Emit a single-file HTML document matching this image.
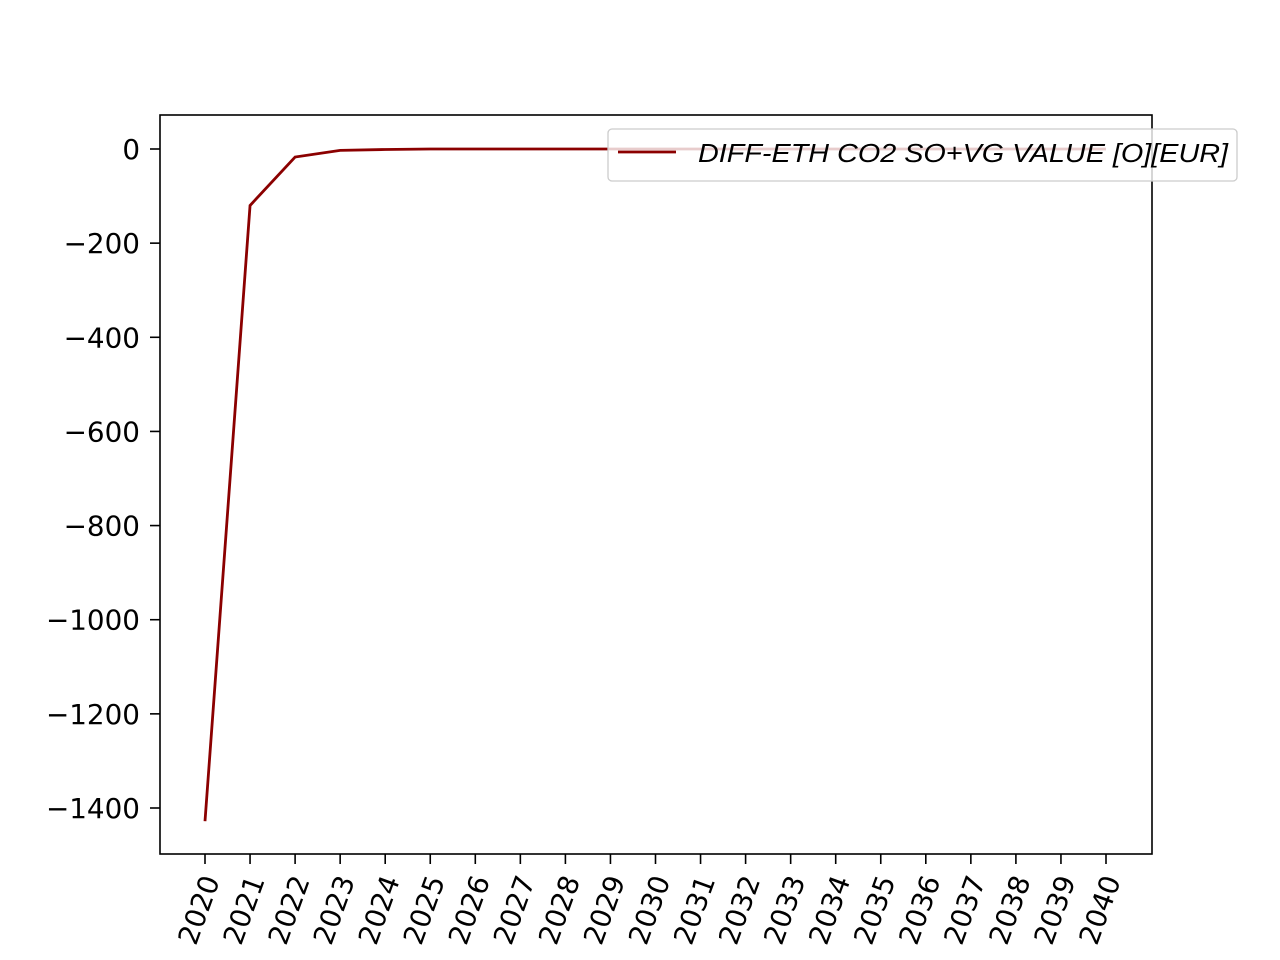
<!DOCTYPE html>
<html><head><meta charset="utf-8"><style>body{margin:0;background:#fff}svg{display:block}</style></head>
<body>
<svg id="chart" width="1280" height="960" xmlns="http://www.w3.org/2000/svg"
 font-family="'DejaVu Sans','Liberation Sans',sans-serif">
<rect x="0" y="0" width="1280" height="960" fill="#fff"/>
<g id="yticks"></g>
<g id="xticks"></g>
<polyline id="line" fill="none" stroke="#8b0000" stroke-width="2.8"/>
<rect x="160" y="115" width="992" height="739" fill="none" stroke="#000" stroke-width="1.6"/>
<g>
<rect x="608" y="129" width="629" height="52" rx="4" fill="#fff" fill-opacity="0.8" stroke="#ccc" stroke-width="1.3"/>
<line x1="618" y1="152" x2="676" y2="152" stroke="#8b0000" stroke-width="2.8"/>
<text x="698" y="162" font-size="26" font-style="italic" font-family="'Comic Sans MS','Liberation Sans',sans-serif" textLength="530" lengthAdjust="spacingAndGlyphs">DIFF-ETH CO2 SO+VG VALUE [O][EUR]</text>
</g>
</svg>
<script>
const years=[2020,2021,2022,2023,2024,2025,2026,2027,2028,2029,2030,2031,2032,2033,2034,2035,2036,2037,2038,2039,2040];
const values=[-1428,-120,-17,-3,-1,0,0,0,0,0,0,0,0,0,0,0,0,0,0,0,0];
const yTickValues=[0,-200,-400,-600,-800,-1000,-1200,-1400];
const NS="http://www.w3.org/2000/svg";
const xs=y=>205+(y-2020)*45.05;
const ys=v=>149-v*(659/1400);
const yg=document.getElementById('yticks'),xg=document.getElementById('xticks');
function mk(t,a){const e=document.createElementNS(NS,t);for(const k in a)e.setAttribute(k,a[k]);return e;}
yTickValues.forEach(v=>{
 const l=mk('line',{x1:150,x2:160,y1:ys(v),y2:ys(v),stroke:'#000','stroke-width':1.6});
 
 
 yg.appendChild(l);
 const t=mk('text',{x:140,y:ys(v)+10,'text-anchor':'end','font-size':27.8});
 
 
 t.textContent=(v<0?'\u2212'+(-v):v);yg.appendChild(t);
});
years.forEach(y=>{
 const x=xs(y);
 const l=mk('line',{x1:x,x2:x,y1:854,y2:864,stroke:'#000','stroke-width':1.6});
 
 
 xg.appendChild(l);
 const t=mk('text',{x:0,y:0,'text-anchor':'end','font-size':27.8,transform:`translate(${x+15},880) rotate(-70)`});
 
 
 t.textContent=y;xg.appendChild(t);
});
document.getElementById('line').setAttribute('points',years.map((y,i)=>xs(y)+','+ys(values[i])).join(' '));
</script>
</body></html>
